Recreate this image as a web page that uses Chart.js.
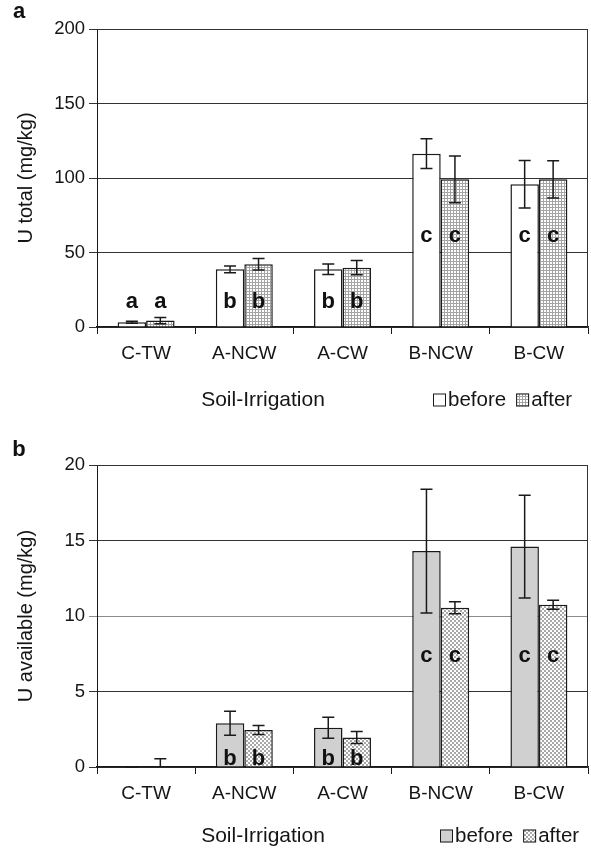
<!DOCTYPE html>
<html>
<head>
<meta charset="utf-8">
<script src="https://cdn.jsdelivr.net/npm/chart.js@4.4.1/dist/chart.umd.min.js"></script>
<style>
  body { margin: 0; background: #fff; }
  .panel { position: absolute; left: 0; width: 591px; }
  #boxA { top: 0; height: 420px; }
  #boxB { top: 430px; height: 422px; }
</style>
</head>
<body>
<div class="panel" id="boxA"><canvas id="chartA" width="591" height="420"></canvas></div>
<div class="panel" id="boxB"><canvas id="chartB" width="591" height="422"></canvas></div>
<script>
// data
const categories = ["C-TW", "A-NCW", "A-CW", "B-NCW", "B-CW"];
const seriesNames = ["before", "after"];

const totalBefore = [3.2, 38.7, 38.7, 116.3, 95.8];
const totalAfter = [4.3, 42.1, 39.8, 99.1, 99.1];
const totalBeforeErr = [0.6, 2.3, 3.5, 10.0, 16.0];
const totalAfterErr = [2.1, 3.8, 4.8, 15.7, 12.5];
const totalLetters = ["a", "b", "b", "c", "c"];
const totalLetterY = [17, 17, 17, 61, 61];
const totalTicks = [0, 50, 100, 150, 200];

const availBefore = [0, 2.9, 2.6, 14.3, 14.6];
const availAfter = [0, 2.45, 1.95, 10.55, 10.75];
const availBeforeErr = [0, 0.8, 0.7, 4.1, 3.4];
const availAfterErr = [0.55, 0.3, 0.4, 0.4, 0.3];
const availLetters = ["", "b", "b", "c", "c"];
const availLetterY = [0, 0.55, 0.55, 7.35, 7.35];
const availTicks = [0, 5, 10, 15, 20];

const FONT = "'Liberation Sans', Arial, sans-serif";
const INK = "#1a1a1a";
const TEXT = "#151515";

function makePattern(size, draw) {
	const c = document.createElement("canvas");
	c.width = size;
	c.height = size;
	const g = c.getContext("2d");
	g.fillStyle = "#fff";
	g.fillRect(0, 0, size, size);
	draw(g);
	return c.getContext("2d").createPattern(c, "repeat");
}

const gridFill = makePattern(3, (g) => {
	g.fillStyle = "#a4a4a4";
	g.fillRect(0, 0, 3, 1);
	g.fillRect(0, 0, 1, 3);
});
const checkFill = makePattern(4, (g) => {
	g.fillStyle = "#a8a8a8";
	g.fillRect(0, 0, 2, 2);
	g.fillRect(2, 2, 2, 2);
});

// error bars + significance letters
const markPlugin = {
	id: "marks",
	afterDatasetsDraw(chart, args, opts) {
		const ctx = chart.ctx;
		const y = chart.scales.y;
		ctx.save();
		chart.data.datasets.forEach((ds, d) => {
			const meta = chart.getDatasetMeta(d);
			meta.data.forEach((bar, i) => {
				const v = ds.data[i];
				const e = ds.errors[i];
				const top = y.getPixelForValue(v + e);
				const bot = y.getPixelForValue(Math.max(v - e, 0));
				ctx.strokeStyle = INK;
				ctx.lineWidth = 1.5;
				ctx.beginPath();
				ctx.moveTo(bar.x, top);
				ctx.lineTo(bar.x, bot);
				ctx.moveTo(bar.x - 6, top);
				ctx.lineTo(bar.x + 6, top);
				if (v - e >= 0) {
					ctx.moveTo(bar.x - 6, bot);
					ctx.lineTo(bar.x + 6, bot);
				}
				ctx.stroke();

				const txt = opts.letters[i];
				if (txt) {
					ctx.fillStyle = "#111";
					ctx.font = "bold 22px " + FONT;
					ctx.textAlign = "center";
					ctx.textBaseline = "middle";
					ctx.fillText(txt, bar.x, y.getPixelForValue(opts.letterY[i]));
				}
			});
		});
		ctx.restore();
	}
};

// frame, panel letter, x title and legend
const framePlugin = {
	id: "frame",
	afterDraw(chart, args, opts) {
		const ctx = chart.ctx;
		const a = chart.chartArea;
		ctx.save();
		ctx.strokeStyle = "#333";
		ctx.lineWidth = 1;
		ctx.beginPath();
		ctx.moveTo(a.left, a.top + 0.5);
		ctx.lineTo(a.right - 0.5, a.top + 0.5);
		ctx.lineTo(a.right - 0.5, a.bottom);
		ctx.stroke();

		ctx.fillStyle = "#111";
		ctx.font = "bold 22px " + FONT;
		ctx.textAlign = "center";
		ctx.textBaseline = "middle";
		ctx.fillText(opts.panel, 19, opts.panelY);

		ctx.fillStyle = TEXT;
		ctx.font = "21px " + FONT;
		ctx.fillText("Soil-Irrigation", 263, opts.footY);

		let x = opts.legendX;
		ctx.textAlign = "left";
		ctx.font = "20.5px " + FONT;
		chart.data.datasets.forEach((ds) => {
			ctx.fillStyle = ds.backgroundColor;
			ctx.fillRect(x, opts.footY - 6.5, 13, 13);
			ctx.strokeStyle = INK;
			ctx.lineWidth = 1;
			ctx.strokeRect(x + 0.5, opts.footY - 6, 12, 12);
			ctx.fillStyle = TEXT;
			ctx.fillText(ds.label, x + 15, opts.footY);
			x += 15 + ctx.measureText(ds.label).width + 10;
		});
		ctx.restore();
	}
};

function buildChart(id, cfg) {
	return new Chart(document.getElementById(id), {
		type: "bar",
		data: {
			labels: categories,
			datasets: [
				{
					label: seriesNames[0],
					data: cfg.before,
					errors: cfg.beforeErr,
					backgroundColor: cfg.beforeFill,
					borderColor: INK,
					borderWidth: 1.5
				},
				{
					label: seriesNames[1],
					data: cfg.after,
					errors: cfg.afterErr,
					backgroundColor: cfg.afterFill,
					borderColor: INK,
					borderWidth: 1.5
				}
			]
		},
		plugins: [markPlugin, framePlugin],
		options: {
			responsive: false,
			animation: false,
			devicePixelRatio: 1,
			layout: { padding: { top: cfg.padTop, right: 3, left: 0, bottom: 0 } },
			datasets: { bar: { categoryPercentage: 0.58, barPercentage: 1 } },
			scales: {
				x: {
					afterFit: (s) => { s.height = cfg.xHeight; },
					ticks: { color: TEXT, font: { family: FONT, size: 19 }, padding: 8 },
					grid: { drawOnChartArea: false, drawTicks: true, tickLength: 7, color: INK, offset: true },
					border: { color: INK, width: 1.5 }
				},
				y: {
					min: 0,
					max: cfg.ticks[cfg.ticks.length - 1],
					afterFit: (s) => { s.width = 97; },
					afterBuildTicks: (s) => { s.ticks = cfg.ticks.map((v) => ({ value: v })); },
					ticks: { color: TEXT, font: { family: FONT, size: 18.5 }, padding: 4 },
					grid: {
						tickLength: 8,
						color: (c) => (c.tick && c.tick.value === cfg.grayTick ? "#8c8c8c" : "#333")
					},
					border: { color: INK, width: 1 },
					title: {
						display: true,
						text: cfg.yTitle,
						color: TEXT,
						font: { family: FONT, size: 20 },
						padding: { top: 14, bottom: 0 }
					}
				}
			},
			plugins: {
				legend: { display: false },
				tooltip: { enabled: false },
				marks: { letters: cfg.letters, letterY: cfg.letterY },
				frame: { panel: cfg.panel, panelY: cfg.panelY, footY: cfg.footY, legendX: cfg.legendX }
			}
		}
	});
}

buildChart("chartA", {
	before: totalBefore, after: totalAfter,
	beforeErr: totalBeforeErr, afterErr: totalAfterErr,
	beforeFill: "#ffffff", afterFill: gridFill,
	letters: totalLetters, letterY: totalLetterY,
	ticks: totalTicks, grayTick: null,
	yTitle: "U total (mg/kg)",
	padTop: 29, xHeight: 93,
	panel: "a", panelY: 12, footY: 400, legendX: 433
});

buildChart("chartB", {
	before: availBefore, after: availAfter,
	beforeErr: availBeforeErr, afterErr: availAfterErr,
	beforeFill: "#d0d0d0", afterFill: checkFill,
	letters: availLetters, letterY: availLetterY,
	ticks: availTicks, grayTick: 10,
	yTitle: "U available (mg/kg)",
	padTop: 35, xHeight: 85,
	panel: "b", panelY: 20, footY: 406, legendX: 440
});
</script>
</body>
</html>
